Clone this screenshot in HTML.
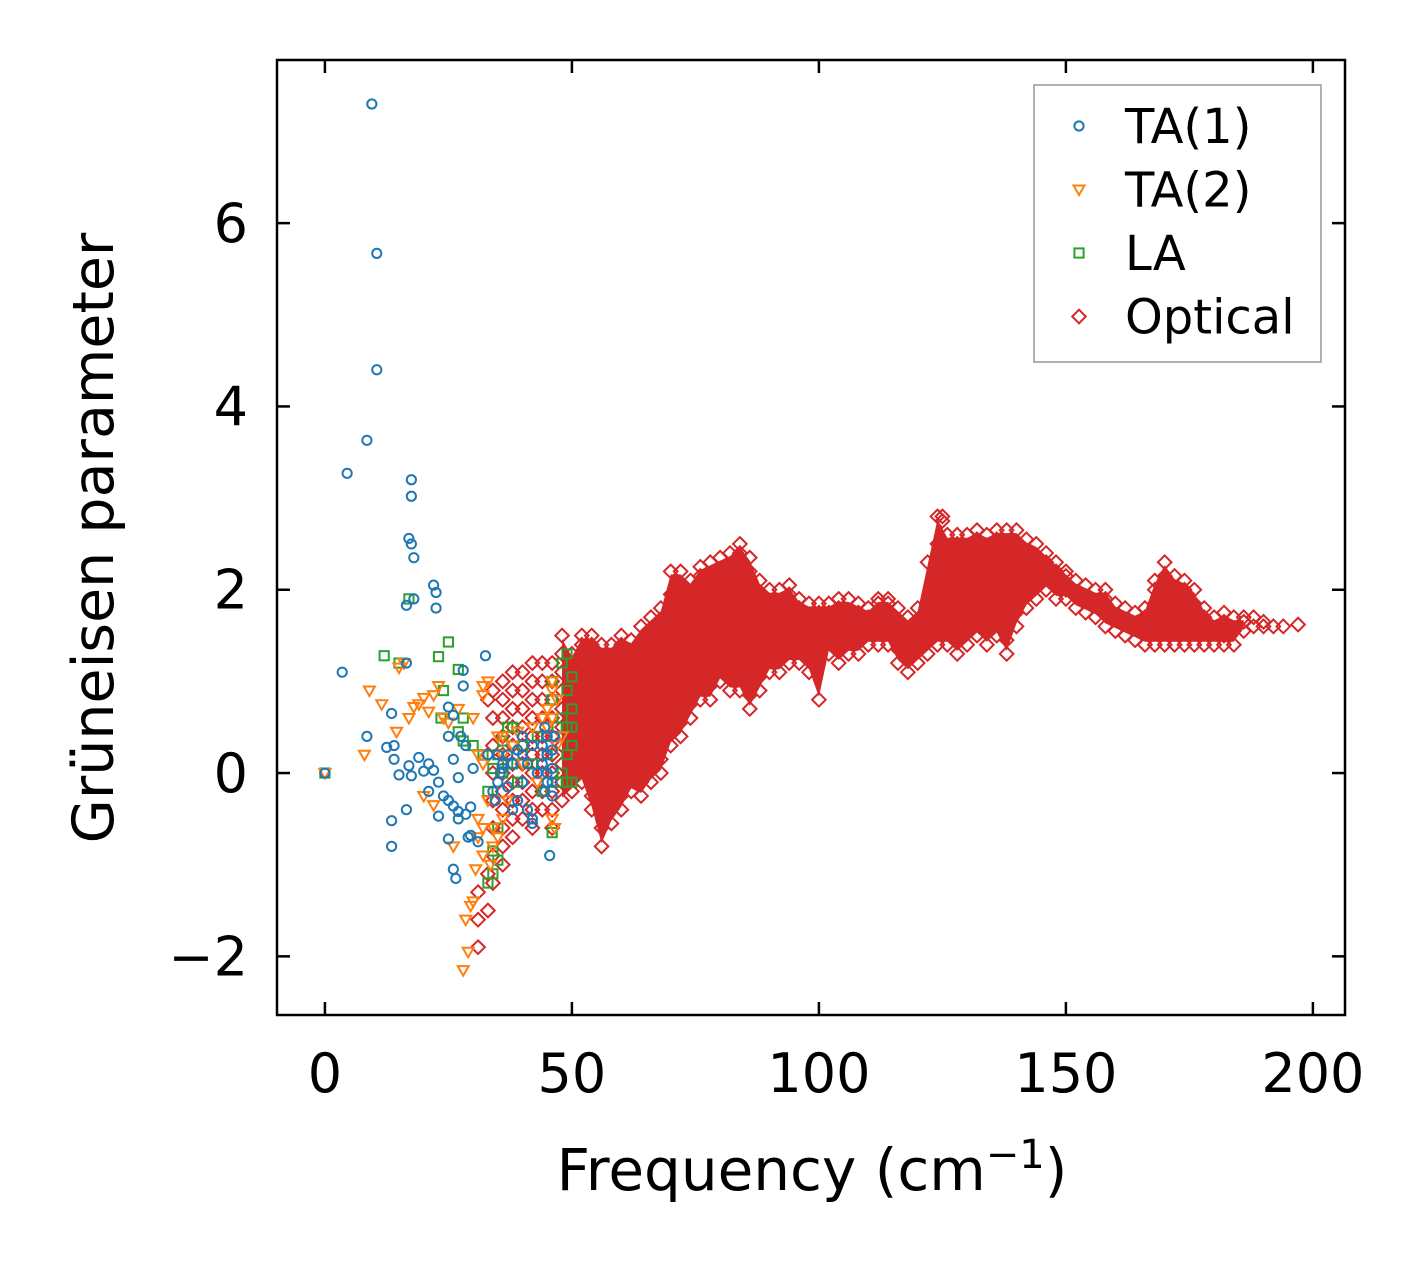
<!DOCTYPE html>
<html><head><meta charset="utf-8"><style>
html,body{margin:0;padding:0;background:#fff;}
svg text{font-family:"DejaVu Sans","Liberation Sans",sans-serif;fill:#000;}
</style></head><body>
<svg id="chart" width="1428" height="1264" viewBox="0 0 1428 1264" xmlns="http://www.w3.org/2000/svg">
<rect x="0" y="0" width="1428" height="1264" fill="#fff"/>
<g id="marks"></g>
<g id="axes"></g>
<text x="812" y="1190" font-size="58" text-anchor="middle">Frequency (cm<tspan font-size="40" dy="-22">−1</tspan><tspan dy="22">)</tspan></text>
<text transform="translate(113,538) rotate(-90)" font-size="57" text-anchor="middle">Grüneisen parameter</text>
<g>
<rect x="1034" y="85" width="287" height="277" fill="#fff" stroke="#999" stroke-width="1.5"/>
<g id="legend-items"></g>
</g>
</svg>
<script>
const xTicks=[0,50,100,150,200];
const yTicks=[-2,0,2,4,6];
const yTickLabels=["−2","0","2","4","6"];
const seriesNames=["TA(1)","TA(2)","LA","Optical"];
const ta1Points=[[0,0],[3.5,1.1],[4.5,3.27],[8.5,3.63],[9.5,7.3],[10.5,5.67],[10.5,4.4],[8.5,0.4],[12.5,0.28],[13.5,0.65],[14,0.3],[14,0.15],[15,-0.02],[13.5,-0.52],[13.5,-0.8],[16.5,1.2],[16.5,1.83],[17,2.56],[17.5,2.5],[17.5,3.2],[17.5,3.02],[18,2.35],[18,1.9],[16.5,-0.4],[17,0.08],[17.5,-0.03],[19,0.17],[20,0.02],[21,0.1],[22,2.05],[22.5,1.97],[22.5,1.8],[22,0.03],[23,-0.1],[23,-0.47],[21,-0.2],[24,-0.25],[25,0.72],[25,0.4],[26,0.63],[26,0.15],[25,-0.3],[26,-0.36],[27,-0.42],[27,-0.5],[28,0.95],[28,1.12],[28.5,0.3],[27.5,0.4],[27,-0.05],[25,-0.72],[26,-1.05],[26.5,-1.15],[28.5,-0.45],[29.5,-0.37],[29,-0.7],[30,0.05],[29.5,-0.68],[31,-0.75],[32.5,1.28],[33,0.2],[34,-0.2],[35,-0.1],[36,0.05],[37,-0.15],[38,0.1],[39,-0.3],[40,0.2],[41,0.1],[42,-0.5],[43,0],[44,0.3],[45,0.2],[45,-0.1],[46,0.05],[45.5,-0.9],[44.5,0.5],[46.5,0.4],[46,-0.25],[38,-0.4],[40,-0.1],[42,0.3],[36,0.1],[35,0.2],[34.5,-0.3],[35.5,0],[37,0.2],[41,-0.4],[44,0.1],[45,0.4],[46,0.25],[45,0],[44.5,-0.2],[46,-0.1],[42,-0.55],[39,0.25],[40,0.4]];
const ta2Points=[[0,0],[8,0.2],[9,0.9],[11.5,0.75],[14.5,0.45],[15,1.15],[16,1.2],[17,0.6],[18,0.72],[19,0.75],[20,0.82],[21,0.67],[22,0.85],[23,0.95],[24,0.6],[20,-0.25],[22,-0.35],[25,0.55],[26,-0.8],[27,0.7],[28,-2.15],[28.5,-1.6],[29,-1.95],[29.5,-1.45],[30,-1.4],[30.5,-1.05],[31,-0.7],[30,0.6],[31,-0.5],[32,0.95],[32,0.85],[33,1.0],[32,0.1],[33,-0.3],[34,-0.6],[35,-0.7],[35,0.4],[36,0.2],[37,-0.3],[38,0.3],[40,0.1],[42,0.5],[43,-0.1],[44,0.6],[45,0.7],[46,0.9],[46,1.0],[46,-0.5],[46.5,-0.6],[47,0.8],[48,0.4],[32,-0.9],[33.5,-1.0],[34,-0.8],[36,-0.5],[45,0.5],[46,0.6],[47,0.3],[36,0.4],[39,0.45],[31,0.2],[32,-0.6]];
const laPoints=[[0,0],[12,1.28],[15,1.2],[17,1.9],[23,1.27],[24,0.9],[25,1.43],[23.5,0.6],[27,1.13],[28,0.6],[27,0.45],[28,0.35],[30,0.3],[32,0.2],[33,-0.2],[33,-1.2],[34,-1.1],[34,-0.85],[35,-0.95],[35,-0.6],[34,0.05],[35,0.2],[36,0.35],[37,0.5],[36,0],[38,0.1],[39,-0.1],[40,0.3],[42,0.1],[43,0.4],[44,-0.2],[45,0.2],[46,0.8],[46,1.0],[47,0.5],[47,-0.1],[48,1.2],[49,1.3],[49,0.9],[50,0.7],[50,1.05],[49,0.2],[50,0.3],[49,-0.1],[50,-0.1],[48,0.6],[46,-0.65],[37,0.1],[38,0.5],[49,0.5],[50,0.5],[48,0]];
const opticalColumns=[
[31,[-1.9,-1.6,-1.3]],[33,[-1.5,-1.1,0.2,0.8]],
[34,[-1.2,-0.9,-0.6,-0.3,0,0.3,0.6,0.9]],
[36,[-1.0,-0.8,-0.6,-0.4,-0.2,0,0.2,0.4,0.6,0.8,1.0]],
[38,[-0.7,-0.5,-0.3,-0.1,0.1,0.3,0.5,0.7,0.9,1.1]],
[40,[-0.5,-0.3,-0.1,0.1,0.3,0.5,0.7,0.9,1.1]],
[42,[-0.6,-0.4,-0.2,0,0.2,0.4,0.6,0.8,1.0,1.2]],
[44,[-0.4,-0.2,0,0.2,0.4,0.6,0.8,1.0,1.2]],
[46,[-0.6,-0.4,-0.2,0,0.2,0.4,0.6,0.8,1.0,1.2]],
[48,[-0.3,-0.1,0.1,0.3,0.5,0.7,0.9,1.1,1.3,1.5]],
[50,[-0.2,0,0.15,0.3,0.45,0.6,0.75,0.9,1.05,1.2,1.3]],
[52,[-0.1,0.05,0.2,0.35,0.5,0.65,0.8,0.95,1.1,1.25,1.4,1.5]],
[54,[-0.4,-0.25,-0.1,0.05,0.2,0.35,0.5,0.65,0.8,0.95,1.1,1.25,1.4,1.5]],
[56,[-0.8,-0.6,-0.45,-0.3,-0.15,0,0.15,0.3,0.45,0.6,0.75,0.9,1.05,1.2,1.4]],
[58,[-0.55,-0.4,-0.25,-0.1,0.05,0.2,0.35,0.5,0.65,0.8,0.95,1.1,1.25,1.4]],
[60,[-0.4,-0.25,-0.1,0.05,0.2,0.35,0.5,0.65,0.8,0.95,1.1,1.25,1.4,1.5]],
[62,[-0.2,-0.05,0.1,0.25,0.4,0.55,0.7,0.85,1.0,1.15,1.3,1.45]],
[64,[-0.25,-0.1,0.05,0.2,0.35,0.5,0.65,0.8,0.95,1.1,1.25,1.4,1.6]],
[66,[-0.1,0.05,0.2,0.35,0.5,0.65,0.8,0.95,1.1,1.25,1.4,1.55,1.7]],
[68,[0,0.15,0.3,0.45,0.6,0.75,0.9,1.05,1.2,1.35,1.5,1.65,1.8]],
[70,[0.3,0.45,0.6,0.75,0.9,1.05,1.2,1.35,1.5,1.65,1.8,1.95,2.2]],
[72,[0.4,0.55,0.7,0.85,1.0,1.15,1.3,1.45,1.6,1.75,1.9,2.05,2.2]],
[74,[0.6,0.75,0.9,1.05,1.2,1.35,1.5,1.65,1.8,1.95,2.1]],
[76,[0.8,0.95,1.1,1.25,1.4,1.55,1.7,1.85,2.0,2.15,2.25]],
[78,[0.8,0.95,1.1,1.25,1.4,1.55,1.7,1.85,2.0,2.15,2.3]],
[80,[1.0,1.15,1.3,1.45,1.6,1.75,1.9,2.05,2.2,2.35]],
[82,[0.9,1.05,1.2,1.35,1.5,1.65,1.8,1.95,2.1,2.25,2.4]],
[84,[0.9,1.05,1.2,1.35,1.5,1.65,1.8,1.95,2.1,2.25,2.4,2.5]],
[86,[0.7,0.85,1.0,1.15,1.3,1.45,1.6,1.75,1.9,2.05,2.2,2.35]],
[88,[0.9,1.05,1.2,1.35,1.5,1.65,1.8,1.95,2.1]],
[90,[1.1,1.25,1.4,1.55,1.7,1.85,2.0]],
[92,[1.1,1.25,1.4,1.55,1.7,1.85,2.0]],
[94,[1.2,1.35,1.5,1.65,1.8,1.95,2.05]],
[96,[1.2,1.35,1.5,1.65,1.8,1.9]],
[98,[1.1,1.25,1.4,1.55,1.7,1.85]],
[100,[0.8,1.3,1.45,1.6,1.75,1.85]],
[102,[1.3,1.45,1.6,1.75,1.85]],
[104,[1.2,1.35,1.5,1.65,1.8,1.9]],
[106,[1.3,1.45,1.6,1.75,1.9]],
[108,[1.3,1.45,1.6,1.75,1.85]],
[110,[1.4,1.55,1.7,1.8]],
[112,[1.4,1.55,1.7,1.85,1.9]],
[114,[1.4,1.55,1.7,1.85,1.9]],
[116,[1.2,1.35,1.5,1.65,1.8]],
[118,[1.1,1.25,1.4,1.55,1.7]],
[120,[1.2,1.35,1.5,1.65,1.8]],
[122,[1.3,1.45,1.6,1.75,2.3]],
[124,[1.4,1.55,1.7,1.85,2.0,2.15,2.3,2.5,2.8]],
[125,[2.8,2.75]],
[126,[1.4,1.55,1.7,1.85,2.0,2.15,2.3,2.45,2.6]],
[128,[1.3,1.45,1.6,1.75,1.9,2.05,2.2,2.35,2.5,2.6]],
[130,[1.4,1.55,1.7,1.85,2.0,2.15,2.3,2.45,2.6]],
[132,[1.5,1.65,1.8,1.95,2.1,2.25,2.4,2.55,2.65]],
[134,[1.4,1.55,1.7,1.85,2.0,2.15,2.3,2.45,2.6]],
[136,[1.5,1.65,1.8,1.95,2.1,2.25,2.4,2.55,2.65]],
[138,[1.3,1.45,1.6,1.75,1.9,2.05,2.2,2.35,2.5,2.65]],
[140,[1.6,1.75,1.9,2.05,2.2,2.35,2.5,2.65]],
[142,[1.8,1.95,2.1,2.25,2.4,2.55]],
[144,[1.9,2.05,2.2,2.35,2.5]],
[146,[2.0,2.15,2.3,2.4]],
[148,[1.9,2.05,2.2,2.3]],
[150,[1.9,2.0,2.15,2.2]],
[152,[1.8,1.95,2.1]],
[154,[1.75,1.9,2.05]],
[156,[1.7,1.85,2.0]],
[158,[1.6,1.75,1.9,2.0]],
[160,[1.55,1.7,1.85]],
[162,[1.5,1.65,1.8]],
[164,[1.45,1.6,1.75]],
[166,[1.4,1.55,1.7,1.8]],
[168,[1.4,1.55,1.7,1.85,2.0,2.1]],
[170,[1.4,1.55,1.7,1.85,2.0,2.15,2.3]],
[172,[1.4,1.55,1.7,1.85,2.0,2.15]],
[174,[1.4,1.55,1.7,1.85,2.0,2.1]],
[176,[1.4,1.55,1.7,1.85,2.0]],
[178,[1.4,1.55,1.7,1.8]],
[180,[1.4,1.55,1.7]],
[182,[1.4,1.5,1.65,1.75]],
[184,[1.4,1.55,1.7]],
[186,[1.55,1.65,1.7]],
[188,[1.6,1.7]],
[190,[1.6,1.65]],
[192,[1.6]],[194,[1.6]],[197,[1.62]]
];
const colors=["#1f77b4","#ff7f0e","#2ca02c","#d62728"];
const L=277,R=1345,T=60,B=1015;
const xMin=-9.7,xMax=206.5,yMin=-2.64,yMax=7.78;
function sx(v){return L+(v-xMin)/(xMax-xMin)*(R-L);}
function sy(v){return B-(v-yMin)/(yMax-yMin)*(B-T);}
const NS="http://www.w3.org/2000/svg";
function mk(tag,attrs){const e=document.createElementNS(NS,tag);for(const k in attrs)e.setAttribute(k,attrs[k]);return e;}
function marker(kind,cx,cy,col){
 let e;
 if(kind===0)e=mk("circle",{cx:cx,cy:cy,r:4.6});
 else if(kind===1)e=mk("polygon",{points:`${cx-5.5},${cy-4} ${cx+5.5},${cy-4} ${cx},${cy+5.5}`});
 else if(kind===2)e=mk("rect",{x:cx-4.6,y:cy-4.6,width:9.2,height:9.2});
 else e=mk("polygon",{points:`${cx},${cy-6.8} ${cx+6.8},${cy} ${cx},${cy+6.8} ${cx-6.8},${cy}`});
 e.setAttribute("fill","none");e.setAttribute("stroke",col);e.setAttribute("stroke-width","2");
 return e;
}
const marks=document.getElementById("marks");
const denseCols=opticalColumns.filter(c=>c[1].length>=3 && c[0]>=48);
const bandTop=denseCols.map(c=>`${sx(c[0])},${sy(Math.max(...c[1]))+3}`);
const bandBot=denseCols.slice().reverse().map(c=>`${sx(c[0])},${sy(Math.min(...c[1]))-3}`);
const band=mk("polygon",{points:bandTop.concat(bandBot).join(" "),fill:colors[3]});


marks.appendChild(band);
const gOpt=mk("g",{});


opticalColumns.forEach(c=>{c[1].forEach(g=>{const m=marker(3,sx(c[0]),sy(g),colors[3]);


gOpt.appendChild(m);});});
marks.appendChild(gOpt);
[[laPoints,2,'la'],[ta2Points,1,'ta2'],[ta1Points,0,'ta1']].forEach(s=>{
 const g=mk("g",{});
 
 
 s[0].forEach(p=>{const m=marker(s[1],sx(p[0]),sy(p[1]),colors[s[1]]);
 
 
 g.appendChild(m);});
 marks.appendChild(g);
});
const axes=document.getElementById("axes");
const frame=mk("rect",{x:L,y:T,width:R-L,height:B-T,fill:"none",stroke:"#000","stroke-width":2.5});


axes.appendChild(frame);
xTicks.forEach(v=>{const x=sx(v);
 axes.appendChild(mk("line",{x1:x,x2:x,y1:B,y2:B-13,stroke:"#000","stroke-width":2.5}));
 axes.appendChild(mk("line",{x1:x,x2:x,y1:T,y2:T+13,stroke:"#000","stroke-width":2.5}));
 const t=mk("text",{x:x,y:1092,"font-size":54,"text-anchor":"middle"});t.textContent=v;
 
 
 axes.appendChild(t);});
yTicks.forEach((v,i)=>{const y=sy(v);
 axes.appendChild(mk("line",{x1:L,x2:L+13,y1:y,y2:y,stroke:"#000","stroke-width":2.5}));
 axes.appendChild(mk("line",{x1:R,x2:R-13,y1:y,y2:y,stroke:"#000","stroke-width":2.5}));
 const t=mk("text",{x:248,y:y+19,"font-size":54,"text-anchor":"end"});t.textContent=yTickLabels[i];
 
 
 axes.appendChild(t);});
const li=document.getElementById("legend-items");
seriesNames.forEach((n,i)=>{const y=126+i*63.5;
 const m=marker(i,1079,y,colors[i]);
 
 
 li.appendChild(m);
 const t=mk("text",{x:1125,y:y+17,"font-size":48});t.textContent=n;
 
 
 li.appendChild(t);});
</script>
</body></html>
